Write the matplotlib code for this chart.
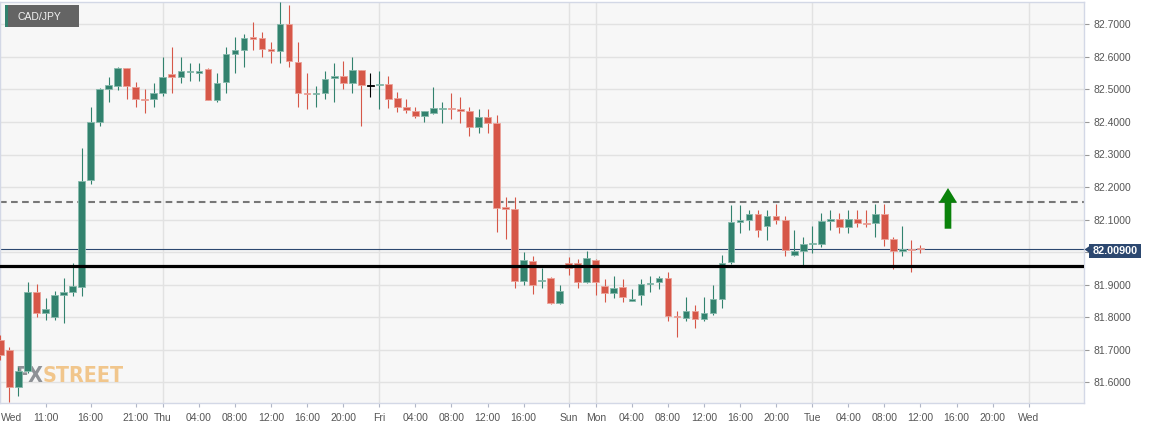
import matplotlib
matplotlib.use("Agg")
import matplotlib.pyplot as plt
from matplotlib.patches import Rectangle, Polygon
from matplotlib import font_manager as fm
import numpy as np

# ---------------- data ----------------
hours = list(range(-18, 85))  # hourly bars, Thu 00:00 = 0 (weekend gap removed)
opens = [81.730, 81.700, 81.587, 81.635, 81.877, 81.814, 81.800, 81.868, 81.877, 81.894,
         82.222, 82.401, 82.501, 82.510, 82.565, 82.506, 82.472, 82.470, 82.490, 82.547,
         82.537, 82.552, 82.551, 82.562, 82.467, 82.522, 82.608, 82.621, 82.660, 82.657,
         82.624, 82.619, 82.700, 82.585, 82.490, 82.487, 82.490, 82.535, 82.541, 82.521,
         82.559, 82.510, 82.513, 82.516, 82.473, 82.445, 82.434, 82.419, 82.427, 82.440,
         82.443, 82.439, 82.433, 82.384, 82.414, 82.396, 82.139, 82.132, 81.911, 81.973,
         81.912, 81.922, 81.845, 81.966, 81.966, 81.909, 81.977, 81.895, 81.873, 81.893,
         81.849, 81.868, 81.901, 81.908, 81.920, 81.805, 81.799, 81.819, 81.796, 81.813,
         81.856, 81.971, 82.094, 82.098, 82.116, 82.079, 82.112, 82.100, 81.992, 82.003,
         82.025, 82.025, 82.097, 82.101, 82.076, 82.103, 82.089, 82.089, 82.116, 82.040,
         82.003, 82.011, 82.011]
highs = [81.745, 81.709, 81.648, 81.909, 81.901, 81.860, 81.881, 81.922, 81.966, 82.319,
         82.447, 82.503, 82.539, 82.570, 82.567, 82.523, 82.500, 82.519, 82.599, 82.629,
         82.599, 82.580, 82.580, 82.565, 82.549, 82.629, 82.660, 82.669, 82.708, 82.677,
         82.647, 82.768, 82.759, 82.647, 82.549, 82.510, 82.557, 82.580, 82.588, 82.599,
         82.560, 82.549, 82.557, 82.540, 82.491, 82.470, 82.447, 82.434, 82.506, 82.460,
         82.488, 82.478, 82.447, 82.439, 82.439, 82.420, 82.168, 82.168, 82.000, 81.989,
         81.950, 81.924, 81.900, 81.984, 81.979, 82.002, 81.980, 81.918, 81.928, 81.918,
         81.887, 81.919, 81.927, 81.928, 81.940, 81.820, 81.861, 81.838, 81.861, 81.899,
         81.990, 82.146, 82.146, 82.128, 82.128, 82.128, 82.149, 82.110, 82.069, 82.048,
         82.079, 82.120, 82.128, 82.120, 82.128, 82.128, 82.128, 82.149, 82.149, 82.048,
         82.079, 82.038, 82.021]
lows = [81.670, 81.541, 81.559, 81.630, 81.800, 81.792, 81.792, 81.781, 81.866, 81.866,
        82.208, 82.388, 82.460, 82.498, 82.470, 82.447, 82.428, 82.447, 82.480, 82.488,
        82.519, 82.527, 82.527, 82.467, 82.460, 82.488, 82.549, 82.570, 82.621, 82.599,
        82.580, 82.580, 82.568, 82.447, 82.439, 82.447, 82.470, 82.460, 82.500, 82.488,
        82.388, 82.478, 82.439, 82.444, 82.431, 82.427, 82.413, 82.400, 82.424, 82.398,
        82.408, 82.398, 82.358, 82.367, 82.367, 82.061, 82.039, 81.889, 81.899, 81.870,
        81.889, 81.840, 81.840, 81.930, 81.889, 81.905, 81.868, 81.846, 81.859, 81.846,
        81.849, 81.838, 81.877, 81.887, 81.787, 81.740, 81.787, 81.767, 81.787, 81.808,
        81.828, 81.964, 82.058, 82.069, 82.046, 82.038, 82.087, 81.989, 81.987, 81.962,
        81.997, 82.017, 82.069, 82.058, 82.058, 82.077, 82.077, 82.046, 82.019, 81.949,
        81.987, 81.938, 81.997]
closes = [81.685, 81.585, 81.635, 81.877, 81.814, 81.826, 81.868, 81.877, 81.897, 82.220,
          82.399, 82.501, 82.513, 82.565, 82.510, 82.470, 82.468, 82.490, 82.539, 82.537,
          82.557, 82.558, 82.558, 82.467, 82.521, 82.608, 82.621, 82.657, 82.655, 82.624,
          82.619, 82.700, 82.586, 82.490, 82.487, 82.490, 82.531, 82.541, 82.521, 82.559,
          82.513, 82.510, 82.518, 82.470, 82.447, 82.437, 82.419, 82.434, 82.442, 82.443,
          82.440, 82.433, 82.384, 82.414, 82.396, 82.137, 82.133, 81.911, 81.975, 81.899,
          81.915, 81.845, 81.882, 81.952, 81.909, 81.981, 81.909, 81.873, 81.889, 81.861,
          81.857, 81.902, 81.906, 81.920, 81.805, 81.800, 81.819, 81.796, 81.813, 81.856,
          81.967, 82.094, 82.098, 82.116, 82.067, 82.112, 82.100, 82.008, 82.002, 82.025,
          82.028, 82.097, 82.103, 82.076, 82.103, 82.090, 82.086, 82.116, 82.040, 82.005,
          82.011, 82.008, 82.009]

tick_hours = [-13, -8, -3, 0, 4, 8, 12, 16, 20, 24, 28, 32, 36, 40, 45, 48,
              52, 56, 60, 64, 68, 72, 76, 80, 84, 88, 92, 96]
tick_labels = ["11:00", "16:00", "21:00", "Thu", "04:00", "08:00", "12:00", "16:00",
               "20:00", "Fri", "04:00", "08:00", "12:00", "16:00", "Sun", "Mon",
               "04:00", "08:00", "12:00", "16:00", "20:00", "Tue", "04:00", "08:00",
               "12:00", "16:00", "20:00", "Wed"]
day_hours = [0, 24, 45, 48, 72, 96]
first_label = "Wed"
first_label_hour = -16.8
price_ticks = [81.6, 81.7, 81.8, 81.9, 82.0, 82.1, 82.2, 82.3, 82.4, 82.5, 82.6, 82.7]
resistance = 82.155
support = 81.958
last_price = 82.009
arrow_hour = 87.05
arrow_base = 82.072
arrow_tip = 82.197
symbol = "CAD/JPY"
watermark_parts = ["FX", "STREET"]

# ---------------- style ----------------
W, H = 1153, 429
GREEN = "#32826e"
RED = "#d65748"
GREEN_EDGE = "#86b9ab"
RED_EDGE = "#eba299"
NAVY = "#2c4870"
TXT = "#555555"


def has_font(name):
    try:
        fm.findfont(fm.FontProperties(family=name), fallback_to_default=False)
        return True
    except Exception:
        return False


def narrow_bold_font():
    narrow_stretch = ("condensed", "semi-condensed", "extra-condensed",
                      "ultra-condensed", "narrower")
    cands = []
    for f in fm.fontManager.ttflist:
        n = f.name.lower()
        fn = f.fname.lower()
        st = f.stretch
        narrow = ("narrow" in n or "condensed" in n or "narrow" in fn or "condensed" in fn
                  or (isinstance(st, str) and st in narrow_stretch)
                  or (isinstance(st, (int, float)) and st < 500))
        w = f.weight
        bold = (w in ("bold", "heavy", "black", "extra bold", "demibold", "semibold")
                or (isinstance(w, (int, float)) and w >= 600) or "bold" in fn)
        if narrow and bold and "italic" not in fn and "oblique" not in fn:
            cands.append(f.fname)
    if cands:
        return fm.FontProperties(fname=sorted(cands)[0]), True
    for fam in ("Roboto", "Liberation Sans", "DejaVu Sans"):
        if has_font(fam):
            return fm.FontProperties(family=fam, weight="bold"), False
    return fm.FontProperties(weight="bold"), False


base_font = "Liberation Sans" if has_font("Liberation Sans") else "DejaVu Sans"
plt.rcParams["font.family"] = [base_font, "DejaVu Sans"]

fig = plt.figure(figsize=(W / 100, H / 100), dpi=100, facecolor="white")
ax_top, ax_bot, ax_right = 1.5, 403.0, 1084.0
ax = fig.add_axes([0.0, 1 - ax_bot / H, ax_right / W, (ax_bot - ax_top) / H])
ax.set_facecolor("#f7f7f7")

# scales: 82.7 at 24.3 px, 325.5 px per unit ; Thu 00:00 at 162.8 px, 9.02 px per hour
ax.set_ylim(82.7 - (ax_bot - 24.3) / 325.5, 82.7 + (24.3 - ax_top) / 325.5)
ax.set_xlim((0 - 162.8) / 9.02, (ax_right - 162.8) / 9.02)

# grid
for p in price_ticks:
    ax.axhline(p, color="#e2e2e2", lw=1.0, zorder=0.5)
for d in day_hours:
    ax.axvline(d, color="#e2e2e2", lw=1.0, zorder=0.5)

# watermark (size fitted to the logo width, 15..124 px, baseline at 382 px)
wm_fp, wm_is_narrow = narrow_bold_font()
wm_size = 20.0
fx = ax.text(15 / W, 1 - 382 / H, watermark_parts[0], transform=fig.transFigure,
             fontproperties=wm_fp, fontsize=wm_size, color="#8e9196",
             va="baseline", ha="left", zorder=1)
st = ax.annotate(watermark_parts[1], xy=(1, 0), xycoords=fx, fontproperties=wm_fp,
                 fontsize=wm_size, color="#f1c68c", va="bottom", ha="left", zorder=1)
fig.canvas.draw()
r = fig.canvas.get_renderer()
b1 = fx.get_window_extent(r)
b2 = st.get_window_extent(r)
width = b2.x1 - b1.x0
target = 109.0 if wm_is_narrow else 115.0
new_size = wm_size * target / width
fx.set_fontsize(new_size)
st.set_fontsize(new_size)

# reference lines
ax.axhline(resistance, color="#777777", lw=1.5, linestyle=(0, (3.2, 2.1)), zorder=1.5)
ax.axhline(support, color="black", lw=2.3, zorder=5)
ax.axhline(last_price, color=NAVY, lw=0.8, zorder=1.6)

# candles
o = np.array(opens)
c = np.array(closes)
hi = np.array(highs)
lo = np.array(lows)
x = np.array(hours)
colors = np.where(c > o, GREEN, np.where(c < o, RED, "black"))
edges = np.where(c > o, GREEN_EDGE, np.where(c < o, RED_EDGE, "black"))
ax.vlines(x, lo, hi, colors=colors, lw=0.8, zorder=3)
body_bottom = np.minimum(o, c)
body_h = np.maximum(np.abs(c - o), 0.0025)
ax.bar(x, body_h, bottom=body_bottom, width=0.74, color=colors, edgecolor=edges,
       linewidth=0.6, zorder=4)

# arrow
ax.arrow(arrow_hour, arrow_base, 0, arrow_tip - arrow_base, width=0.74, head_width=2.0,
         head_length=0.045, length_includes_head=True, fc="#0a820a", ec="none", zorder=6)

# axes decoration
for s in ax.spines.values():
    s.set_color("#d3d8e6")
    s.set_linewidth(1.0)
ax.yaxis.tick_right()
ax.set_yticks(price_ticks)
# the 82.0000 label is hidden behind the last-price tag in the original
ax.set_yticklabels(["" if abs(p - 82.0) < 1e-9 else f"{p:.4f}" for p in price_ticks])
ax.tick_params(axis="y", which="both", length=3.6, width=0.8, color="#999999",
               pad=3, labelsize=7.5, labelcolor=TXT)
ax.set_xticks(tick_hours)
ax.set_xticklabels(tick_labels)
ax.tick_params(axis="x", which="both", length=2.9, width=0.8, color="#b0b6c6",
               pad=4, labelsize=7.5, labelcolor=TXT)
ax.text(first_label_hour, -9.6 / (ax_bot - ax_top), first_label,
        transform=ax.get_xaxis_transform(), fontsize=7.5, color=TXT,
        ha="center", va="top")

# symbol label box
fig.patches.append(Rectangle((5 / W, 1 - 27 / H), 74 / W, 22 / H, transform=fig.transFigure,
                             facecolor="#646464", edgecolor="none", zorder=10))
fig.patches.append(Rectangle((5 / W, 1 - 27 / H), 2.5 / W, 22 / H, transform=fig.transFigure,
                             facecolor=GREEN, edgecolor="none", zorder=11))
fig.text(17 / W, 1 - 16.5 / H, symbol, color="#f2f2f2", fontsize=7.5, ha="left",
         va="center", zorder=12)

# last price tag with small pointer
fig.patches.append(Rectangle((1089 / W, 1 - 258 / H), 52 / W, 14 / H,
                             transform=fig.transFigure, facecolor=NAVY,
                             edgecolor="none", zorder=10))
fig.patches.append(Polygon([(1084.5 / W, 1 - 249.5 / H), (1089.5 / W, 1 - 246 / H),
                            (1089.5 / W, 1 - 253 / H)], closed=True,
                           transform=fig.transFigure, facecolor=NAVY,
                           edgecolor="none", zorder=10))
fig.text(1115 / W, 1 - 251 / H, f"{last_price:.5f}", color="white", fontsize=7.8,
         fontweight="bold", ha="center", va="center", zorder=12)

fig.savefig("out.png", dpi=100, facecolor="white")
